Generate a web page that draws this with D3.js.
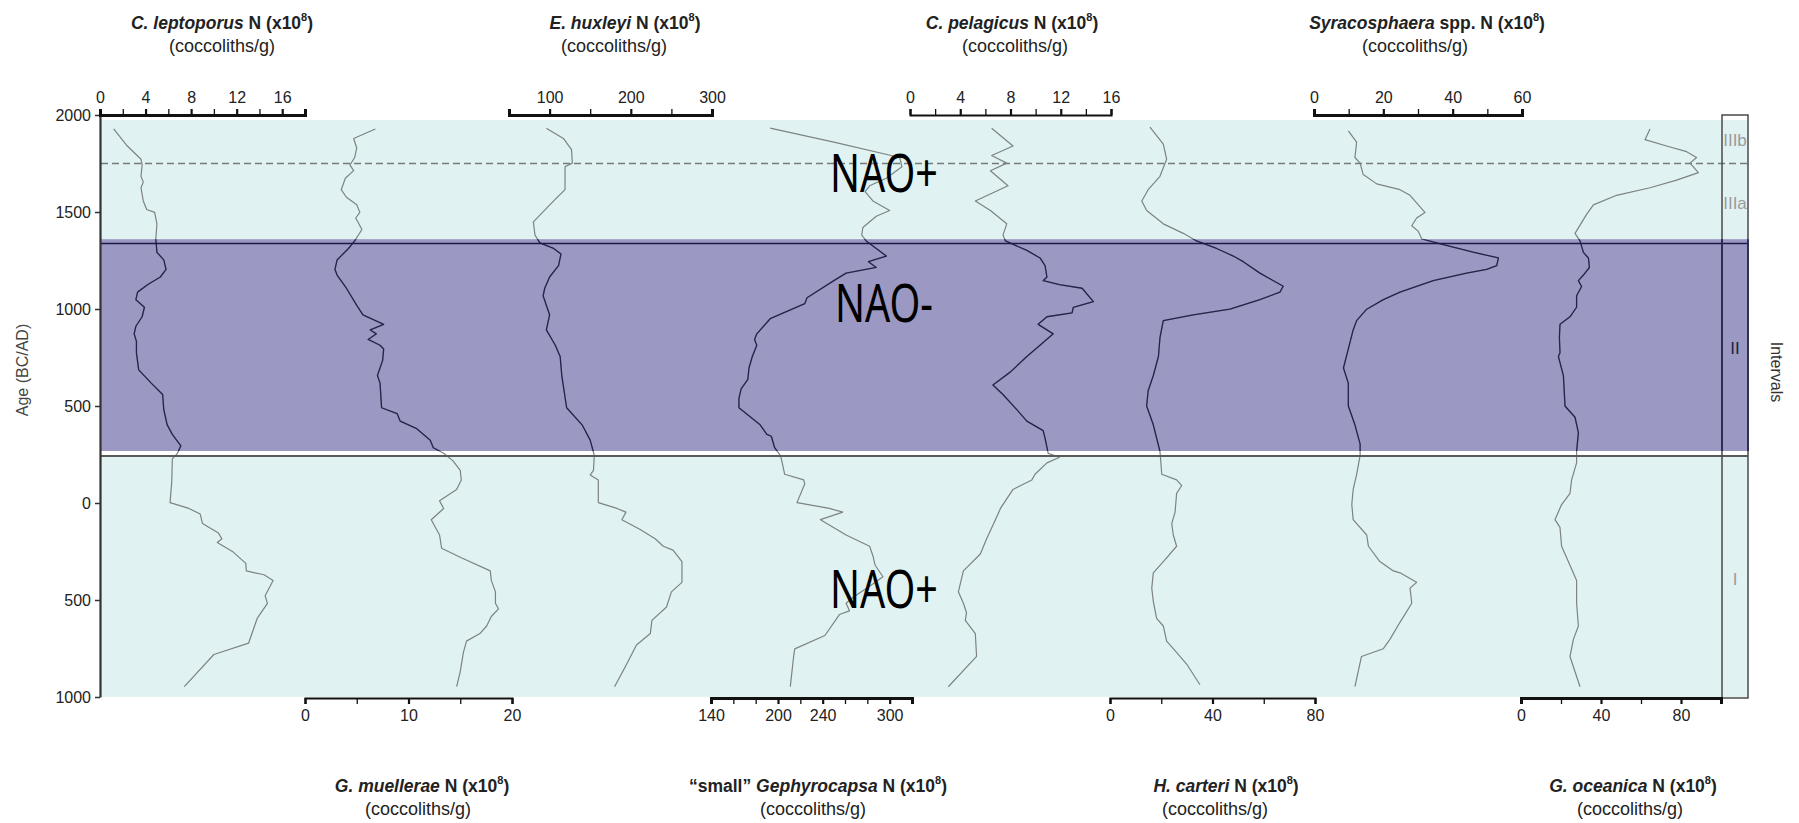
<!DOCTYPE html>
<html>
<head>
<meta charset="utf-8">
<script src="https://cdn.jsdelivr.net/npm/d3@7"></script>
<style>
  body { margin: 0; background: #fff; }
  svg { display: block; font-family: "Liberation Sans", Arial, sans-serif; }
</style>
</head>
<body>
<svg id="chart" width="1799" height="823"></svg>
<script>
// age ticks (negative = BC)
const ageTicks = [2000, 1500, 1000, 500, 0, -500, -1000];

// interval boundaries (years)
const bandTop = 1360, bandBottom = 268, lineTop = 1338, lineBottom = 242, dashAge = 1750;
const intervalNames = ["IIIb", "IIIa", "II", "I"];
const intervalAges = [1870, 1545, 800, -390];

// [age, N x10^8 coccoliths/g]
const leptoporus = [[1928,1.2],[1840,2.4],[1772,3.6],[1742,3.7],[1684,3.6],[1654,3.8],[1625,3.6],[1557,3.8],[1513,4.1],[1498,4.8],[1439,5.0],[1361,4.9],[1292,5.0],[1253,5.6],[1204,5.8],[1165,5.3],[1126,4.2],[1087,3.3],[1048,3.15],[1009,3.9],[960,3.7],[911,3.15],[872,3.0],[833,3.2],[774,3.2],[686,3.4],[618,4.5],[559,5.5],[481,5.6],[403,5.9],[354,6.35],[295,7.1],[256,6.8],[227,6.35],[109,6.3],[2,6.15],[-28,7.8],[-57,8.8],[-106,9.0],[-155,10.4],[-184,10.7],[-204,10.3],[-253,11.7],[-311,12.8],[-350,12.85],[-370,14.4],[-399,15.2],[-478,14.5],[-517,14.7],[-595,13.8],[-722,13.05],[-781,10.0],[-947,7.4]];

const muellerae = [[1928,6.8],[1879,4.7],[1830,5.0],[1781,4.8],[1742,4.35],[1713,4.7],[1674,3.9],[1615,3.5],[1576,4.0],[1537,5.0],[1498,5.3],[1469,4.9],[1410,5.5],[1351,4.8],[1312,4.2],[1253,3.1],[1204,2.9],[1175,3.1],[1107,4.0],[1019,5.0],[970,5.6],[921,7.6],[892,6.3],[872,6.9],[843,6.1],[813,7.25],[794,7.6],[735,7.5],[657,7.0],[618,7.25],[491,7.4],[461,8.9],[422,9.2],[383,10.8],[324,12.1],[285,12.4],[256,13.4],[217,14.3],[168,15.0],[119,15.1],[70,14.65],[11,13.0],[-28,13.4],[-86,12.2],[-165,13.0],[-233,13.2],[-282,15.1],[-350,17.9],[-399,18.0],[-458,18.4],[-517,18.4],[-546,18.7],[-585,18.0],[-634,17.55],[-673,16.9],[-712,15.6],[-771,15.3],[-869,15.0],[-947,14.65]];

const huxleyi = [[1932,96],[1879,117],[1821,127],[1752,128],[1733,119],[1615,119],[1557,105],[1449,80],[1381,82],[1341,88],[1312,105],[1283,114],[1224,111],[1165,100],[1107,94],[1068,92],[970,100],[892,96],[813,107],[755,113],[657,115],[491,121],[403,140],[324,150],[246,155],[168,154],[144,150],[119,160],[2,160],[-28,183],[-47,194],[-86,189],[-135,211],[-184,230],[-223,240],[-243,252],[-302,263],[-409,263],[-458,250],[-536,244],[-605,226],[-673,224],[-732,207],[-830,195],[-947,180]];

const smallGephyrocapsa = [[1932,193],[1860,250],[1781,309],[1733,311],[1674,297],[1635,282],[1605,278],[1557,285],[1508,300],[1478,288],[1420,276],[1381,275],[1351,279],[1312,288],[1273,297],[1244,281],[1214,288],[1185,261],[1146,250],[1058,226],[1028,224],[950,193],[872,181],[843,179],[813,181],[755,177],[696,174],[637,173],[588,167],[539,165],[491,165],[403,184],[354,190],[344,194],[285,197],[246,202],[227,203],[148,206],[119,223],[99,224],[2,217],[-28,246],[-47,258],[-86,238],[-165,261],[-223,282],[-272,285],[-321,287],[-380,294],[-429,282],[-487,267],[-517,261],[-556,264],[-575,255],[-683,242],[-752,215],[-791,214],[-947,211]];

const pelagicus = [[1932,6.5],[1840,8.2],[1791,6.5],[1752,7.7],[1713,6.4],[1635,7.8],[1557,5.2],[1508,6.4],[1439,7.7],[1381,7.4],[1351,7.6],[1302,9.3],[1263,10.35],[1224,10.75],[1165,10.9],[1146,10.6],[1126,11.9],[1107,13.7],[1038,14.6],[1009,13.0],[980,12.9],[960,10.9],[921,10.2],[872,11.4],[813,10.35],[755,9.3],[676,8.0],[608,6.6],[559,7.4],[481,8.5],[422,9.3],[373,10.6],[334,10.75],[256,11.0],[236,11.9],[207,10.9],[148,9.95],[119,9.7],[70,8.2],[-28,7.2],[-86,6.8],[-184,6.1],[-263,5.6],[-350,4.25],[-458,3.85],[-517,4.25],[-566,4.5],[-605,4.4],[-673,5.2],[-791,5.3],[-947,3.05]];

const carteri = [[1938,15.6],[1850,20.8],[1772,22.1],[1684,19.5],[1615,14.9],[1557,12.4],[1508,14.3],[1439,20.8],[1390,28.6],[1351,33.8],[1312,41.6],[1273,48.1],[1244,52.0],[1185,58.5],[1156,62.4],[1117,67.6],[1087,66.3],[1048,58.5],[999,46.8],[970,32.5],[940,20.8],[852,19.5],[755,18.9],[657,16.9],[579,14.9],[500,14.3],[403,16.9],[266,19.5],[148,20.2],[119,26.0],[90,28.0],[50,26.0],[-47,25.4],[-106,24.1],[-165,24.7],[-223,26.0],[-292,21.5],[-360,16.9],[-439,16.3],[-507,16.9],[-595,18.2],[-634,20.8],[-712,22.1],[-751,24.7],[-830,29.9],[-937,35.1]];

const syracosphaera = [[1918,9.9],[1860,12.3],[1781,11.8],[1752,13.3],[1693,14.2],[1645,18.1],[1615,24.8],[1586,27.7],[1547,29.6],[1498,32.0],[1469,29.6],[1429,28.2],[1400,30.1],[1361,31.1],[1332,37.3],[1293,45.9],[1263,53.2],[1224,52.7],[1204,49.8],[1185,44.0],[1146,34.4],[1087,24.8],[1048,20.0],[999,15.2],[940,12.3],[892,11.3],[794,9.9],[696,8.5],[618,9.9],[500,9.9],[403,11.8],[305,13.3],[246,13.3],[148,12.3],[70,11.3],[-8,10.9],[-86,11.3],[-165,15.2],[-223,15.7],[-302,19.0],[-350,22.9],[-360,24.8],[-409,29.6],[-439,27.7],[-517,28.2],[-615,24.8],[-703,21.9],[-751,20.0],[-791,13.7],[-947,11.8]];

const oceanica = [[1928,64.5],[1873,62.0],[1840,72.8],[1811,82.8],[1781,87.8],[1752,84.5],[1703,88.7],[1664,77.8],[1625,64.5],[1586,47.8],[1537,36.2],[1488,32.8],[1390,27.0],[1351,29.5],[1292,31.2],[1263,33.7],[1214,34.2],[1175,31.2],[1146,28.7],[1116,30.3],[1068,27.8],[1009,27.8],[960,24.5],[921,19.5],[852,19.2],[774,19.5],[755,18.7],[657,21.2],[500,22.0],[442,27.0],[363,28.7],[266,27.8],[207,27.8],[119,25.3],[50,24.5],[-8,20.3],[-86,17.0],[-126,19.5],[-223,20.3],[-321,24.5],[-399,27.8],[-517,27.8],[-634,28.7],[-703,26.2],[-791,24.5],[-947,29.5]];

// axis domains, tick steps and labelled ticks
const leptoporusTicks = {domain: [0, 18], step: 2, labels: [0, 4, 8, 12, 16]};
const muelleraeTicks = {domain: [0, 20], step: 5, labels: [0, 10, 20]};
const huxleyiTicks = {domain: [50, 300], step: 50, labels: [100, 200, 300]};
const smallTicks = {domain: [140, 320], step: 20, labels: [140, 200, 240, 300]};
const pelagicusTicks = {domain: [0, 16], step: 2, labels: [0, 4, 8, 12, 16]};
const carteriTicks = {domain: [0, 80], step: 20, labels: [0, 40, 80]};
const syracoTicks = {domain: [0, 60], step: 10, labels: [0, 20, 40, 60]};
const oceanicaTicks = {domain: [0, 100], step: 20, labels: [0, 40, 80]};

const panels = [
  {data: leptoporus, t: leptoporusTicks, side: "top", x0: 100, x1: 305, tx: 222, sx: 222, pre: "", sp: "C. leptoporus", post: " N (x10", heavy: true},
  {data: muellerae, t: muelleraeTicks, side: "bottom", x0: 305, x1: 512, tx: 422, sx: 418, pre: "", sp: "G. muellerae", post: " N (x10", heavy: false},
  {data: huxleyi, t: huxleyiTicks, side: "top", x0: 509, x1: 712, tx: 625, sx: 614, pre: "", sp: "E. huxleyi", post: " N (x10", heavy: true},
  {data: smallGephyrocapsa, t: smallTicks, side: "bottom", x0: 711, x1: 912, tx: 818, sx: 813, pre: "\u201csmall\u201d ", sp: "Gephyrocapsa", post: " N (x10", heavy: true},
  {data: pelagicus, t: pelagicusTicks, side: "top", x0: 910, x1: 1111, tx: 1012, sx: 1015, pre: "", sp: "C. pelagicus", post: " N (x10", heavy: false},
  {data: carteri, t: carteriTicks, side: "bottom", x0: 1110, x1: 1315, tx: 1226, sx: 1215, pre: "", sp: "H. carteri", post: " N (x10", heavy: false},
  {data: syracosphaera, t: syracoTicks, side: "top", x0: 1314, x1: 1522, tx: 1427, sx: 1415, pre: "", sp: "Syracosphaera", post: " spp. N (x10", heavy: true},
  {data: oceanica, t: oceanicaTicks, side: "bottom", x0: 1521, x1: 1721, tx: 1633, sx: 1630, pre: "", sp: "G. oceanica", post: " N (x10", heavy: true}
];

const svg = d3.select("#chart");
const y = d3.scaleLinear().domain([2000, -1000]).range([115, 697]);

const plotL = 101, plotR = 1748, boxL = 1722;
const bandColor = "#9b99c3", bgColor = "#e1f2f2", navy = "#23234f";

// background
svg.append("rect").attr("x", plotL).attr("y", 120).attr("width", plotR - plotL).attr("height", y(-1000) - 120).attr("fill", bgColor);
svg.append("rect").attr("x", plotL).attr("y", y(bandTop)).attr("width", plotR - plotL).attr("height", y(bandBottom) - y(bandTop)).attr("fill", bandColor);
svg.append("rect").attr("x", plotL).attr("y", y(bandBottom)).attr("width", plotR - plotL).attr("height", y(lineBottom) - y(bandBottom) - 1).attr("fill", "#fff");

svg.append("defs").append("clipPath").attr("id", "band")
  .append("rect").attr("x", 0).attr("y", y(bandTop)).attr("width", 1799).attr("height", y(bandBottom) - y(bandTop));

// dashed line (IIIa / IIIb)
svg.append("line").attr("x1", plotL).attr("x2", plotR).attr("y1", y(dashAge)).attr("y2", y(dashAge))
  .attr("stroke", "#757a7a").attr("stroke-width", 1.3).attr("stroke-dasharray", "7,4");

// curves
const curves = svg.append("g");
panels.forEach(p => {
  p.x = d3.scaleLinear().domain(p.t.domain).range([p.x0, p.x1]);
  const line = d3.line().x(d => p.x(d[1])).y(d => y(d[0]));
  curves.append("path").datum(p.data).attr("d", line)
    .attr("fill", "none").attr("stroke", "#7d8383").attr("stroke-width", 1.2).attr("stroke-linejoin", "round");
  curves.append("path").datum(p.data).attr("d", line).attr("clip-path", "url(#band)")
    .attr("fill", "none").attr("stroke", navy).attr("stroke-width", 1.3).attr("stroke-linejoin", "round");
});

// interval boundary lines
svg.append("line").attr("x1", plotL).attr("x2", plotR).attr("y1", y(lineTop)).attr("y2", y(lineTop))
  .attr("stroke", "#1b1b48").attr("stroke-width", 1.6);
svg.append("line").attr("x1", plotL).attr("x2", plotR).attr("y1", y(lineBottom)).attr("y2", y(lineBottom))
  .attr("stroke", "#5a5a5a").attr("stroke-width", 2);

// intervals box
svg.append("rect").attr("x", boxL).attr("y", 115).attr("width", plotR - boxL).attr("height", y(-1000) + 1 - 115)
  .attr("fill", "none").attr("stroke", "#4a4a4a").attr("stroke-width", 1.5);
svg.append("line").attr("x1", boxL).attr("x2", boxL).attr("y1", y(bandTop)).attr("y2", y(bandBottom)).attr("stroke", navy).attr("stroke-width", 1.6);
svg.append("line").attr("x1", plotR).attr("x2", plotR).attr("y1", y(bandTop)).attr("y2", y(bandBottom)).attr("stroke", navy).attr("stroke-width", 1.6);

svg.append("g").selectAll("text").data(intervalNames).join("text")
  .attr("x", (boxL + plotR) / 2).attr("y", (d, i) => y(intervalAges[i]) + 6)
  .attr("text-anchor", "middle").attr("font-size", 17)
  .attr("fill", d => d === "II" ? "#1e1e40" : "#9a9c9c").text(d => d);

svg.append("text").attr("transform", "translate(1771,372) rotate(90)").attr("text-anchor", "middle")
  .attr("font-size", 16).attr("fill", "#333").text("Intervals");

// y axis
const yAxis = svg.append("g").attr("transform", `translate(${plotL - 1},0)`)
  .call(d3.axisLeft(y).tickValues(ageTicks).tickFormat(d => Math.abs(d)).tickSize(5).tickSizeOuter(0).tickPadding(4));
yAxis.select(".domain").attr("stroke", "#333").attr("stroke-width", 2.2);
yAxis.selectAll(".tick line").attr("stroke", "#333").attr("stroke-width", 1.5);
yAxis.selectAll("text").attr("font-size", 16).attr("font-family", "Liberation Sans, Arial, sans-serif").attr("fill", "#222");

svg.append("text").attr("transform", "translate(28,370) rotate(-90)").attr("text-anchor", "middle")
  .attr("font-size", 16).attr("fill", "#444").text("Age (BC/AD)");

// panel axes and titles
panels.forEach(p => {
  const top = p.side === "top";
  const ticks = d3.range(p.t.domain[0], p.t.domain[1] + p.t.step / 2, p.t.step);
  const ax = (top ? d3.axisTop(p.x) : d3.axisBottom(p.x)).tickValues(ticks)
    .tickFormat(d => p.t.labels.includes(d) ? d : "").tickSize(6).tickSizeOuter(6).tickPadding(6);
  const g = svg.append("g").attr("transform", `translate(0,${top ? 115 : 698})`).call(ax);
  g.select(".domain").attr("stroke", "#111").attr("stroke-width", p.heavy ? 3 : 2);
  g.selectAll(".tick line").attr("stroke", "#111").attr("stroke-width", d => p.t.labels.includes(d) ? 2.2 : 1.3);
  g.selectAll("text").attr("font-size", 16).attr("font-family", "Liberation Sans, Arial, sans-serif").attr("fill", "#222");

  const ty = top ? 29 : 792, sy = top ? 52 : 815;
  const t = svg.append("text").attr("x", p.tx).attr("y", ty).attr("text-anchor", "middle")
    .attr("font-size", 17.5).attr("font-weight", "bold").attr("fill", "#222");
  if (p.pre) t.append("tspan").text(p.pre);
  t.append("tspan").attr("font-style", "italic").text(p.sp);
  t.append("tspan").text(p.post);
  t.append("tspan").attr("font-size", 11).attr("dy", -8).text("8");
  t.append("tspan").attr("dy", 8).text(")");
  svg.append("text").attr("x", p.sx).attr("y", sy).attr("text-anchor", "middle")
    .attr("font-size", 18).attr("fill", "#222").text("(coccoliths/g)");
});

// NAO labels
const naoText = ["NAO+", "NAO-", "NAO+"];
const naoAges = [1605, 935, -540];
svg.append("g").selectAll("text").data(naoText).join("text")
  .attr("transform", (d, i) => `translate(884,${y(naoAges[i])}) scale(0.76,1)`)
  .attr("text-anchor", "middle").attr("font-family", "Noto Sans, sans-serif").attr("font-size", 52)
  .attr("fill", "#000").text(d => d);
</script>
</body>
</html>
